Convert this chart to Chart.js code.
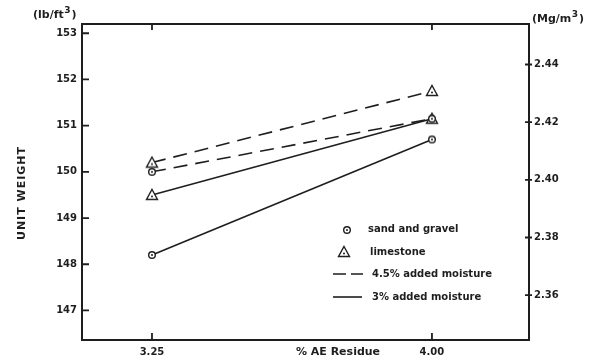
<!DOCTYPE html>
<html lang="en">
<head>
<meta charset="UTF-8" />
<script src="https://cdn.jsdelivr.net/npm/chart.js@4.4.0/dist/chart.umd.min.js"></script>
<title>Unit weight vs % AE residue</title>
<style>
  html, body { margin: 0; padding: 0; background: #fff; }
</style>
</head>
<body>
<canvas id="myChart" width="600" height="362"></canvas>
<script>
// values
var xValues = [3.25, 4.00];
var limestoneWet = [150.2, 151.75];  // limestone, 4.5% added moisture
var sandWet = [150.0, 151.15];       // sand and gravel, 4.5% added moisture
var limestoneDry = [149.5, 151.15];  // limestone, 3% added moisture
var sandDry = [148.2, 150.7];        // sand and gravel, 3% added moisture

var leftTicks = [147, 148, 149, 150, 151, 152, 153];
var rightTicks = [2.36, 2.38, 2.40, 2.42, 2.44];
var xTicks = [3.25, 4.00];

var lbToMg = 0.0160185;
var yMin = 146.36, yMax = 153.2;
var xMin = 3.0625, xMax = 4.26;
var ink = "#1e1e1e";
var font = "DejaVu Sans";

function pts(ys) {
  return xValues.map(function (x, i) { return { x: x, y: ys[i] }; });
}

function marker(kind) {
  var c = document.createElement("canvas");
  c.width = 14; c.height = 14;
  var g = c.getContext("2d");
  g.strokeStyle = ink; g.lineWidth = 1.4;
  g.beginPath();
  if (kind == "circle") {
    g.arc(7, 7, 3.3, 0, Math.PI * 2);
  } else {
    g.moveTo(7, 1.5); g.lineTo(12.5, 11.5); g.lineTo(1.5, 11.5); g.closePath();
  }
  g.fillStyle = "#fff"; g.fill(); g.stroke();
  g.beginPath();
  g.arc(7, kind == "circle" ? 7 : 8.5, 1, 0, Math.PI * 2);
  g.fillStyle = ink; g.fill();
  return c;
}
var circleImg = marker("circle");
var triImg = marker("triangle");

function ds(label, ys, img, dashed) {
  return {
    label: label,
    data: pts(ys),
    borderColor: ink,
    borderWidth: 1.6,
    borderDash: dashed ? [14, 8] : [],
    pointStyle: img,
    pointRadius: 6,
    fill: false,
    tension: 0
  };
}

function setTicks(list) {
  return function (s) { s.ticks = list.map(function (v) { return { value: v }; }); };
}

// text with a raised "3" for the unit labels
function unitLabel(ctx, pre, x, y) {
  ctx.font = "bold 11px '" + font + "'";
  ctx.fillText(pre, x, y);
  var w = ctx.measureText(pre).width;
  ctx.font = "bold 9px '" + font + "'";
  ctx.fillText("3", x + w + 0.5, y - 4);
  var w3 = ctx.measureText("3").width;
  ctx.font = "bold 11px '" + font + "'";
  ctx.fillText(")", x + w + w3 + 1.5, y);
}

var decor = {
  id: "decor",
  afterDraw: function (chart) {
    var ctx = chart.ctx, a = chart.chartArea, sc = chart.scales;
    ctx.save();
    ctx.strokeStyle = ink; ctx.fillStyle = ink; ctx.lineWidth = 1.8;
    // inward tick marks
    ctx.beginPath();
    leftTicks.forEach(function (v) {
      var y = sc.y.getPixelForValue(v);
      ctx.moveTo(a.left, y); ctx.lineTo(a.left + 7, y);
    });
    rightTicks.forEach(function (v) {
      var y = sc.y2.getPixelForValue(v);
      ctx.moveTo(a.right - 4, y); ctx.lineTo(a.right + 3, y);
    });
    xTicks.forEach(function (v) {
      var x = sc.x.getPixelForValue(v);
      ctx.moveTo(x, a.bottom); ctx.lineTo(x, a.bottom - 7);
      ctx.moveTo(x, a.top); ctx.lineTo(x, a.top + 6);
    });
    ctx.stroke();

    // unit labels and axis titles
    ctx.textBaseline = "middle";
    ctx.textAlign = "left";
    unitLabel(ctx, "(lb/ft", 33, 15);
    unitLabel(ctx, "(Mg/m", 532, 19);
    ctx.font = "bold 11px '" + font + "'";
    ctx.textAlign = "center";
    ctx.fillText("% AE Residue", 338, 352);
    ctx.save();
    ctx.translate(22, 193);
    ctx.rotate(-Math.PI / 2);
    ctx.letterSpacing = "1px";
    ctx.fillText("UNIT WEIGHT", 0, 0);
    ctx.restore();

    // legend inside the plot
    ctx.drawImage(circleImg, 347 - 7, 230 - 7);
    ctx.drawImage(triImg, 344 - 7, 252 - 7);
    ctx.lineWidth = 1.6;
    ctx.beginPath(); ctx.setLineDash([13, 5]);
    ctx.moveTo(333, 274); ctx.lineTo(363, 274); ctx.stroke();
    ctx.beginPath(); ctx.setLineDash([]);
    ctx.moveTo(333, 297); ctx.lineTo(362, 297); ctx.stroke();
    ctx.font = "bold 10px '" + font + "'";
    ctx.textAlign = "left";
    ctx.fillText("sand and gravel", 368, 229);
    ctx.fillText("limestone", 370, 252);
    ctx.fillText("4.5% added moisture", 372, 274);
    ctx.fillText("3% added moisture", 372, 297);
    ctx.restore();
  }
};

var tickFont = { family: font, size: 10, weight: "bold" };

new Chart("myChart", {
  type: "line",
  data: {
    datasets: [
      ds("limestone 4.5%", limestoneWet, triImg, true),
      ds("sand and gravel 4.5%", sandWet, circleImg, true),
      ds("limestone 3%", limestoneDry, triImg, false),
      ds("sand and gravel 3%", sandDry, circleImg, false)
    ]
  },
  options: {
    responsive: false,
    animation: false,
    devicePixelRatio: 1,
    layout: { padding: 0 },
    plugins: { legend: { display: false }, tooltip: { enabled: false } },
    scales: {
      x: {
        type: "linear", position: "bottom", min: xMin, max: xMax,
        grid: { display: false, drawTicks: false },
        border: { display: true, color: ink, width: 2 },
        ticks: { color: ink, font: tickFont, padding: 6, maxRotation: 0,
                 callback: function (v) { return Number(v).toFixed(2); } },
        afterBuildTicks: setTicks(xTicks),
        afterFit: function (s) { s.height = 22; }
      },
      xTop: {
        type: "linear", position: "top", min: xMin, max: xMax,
        grid: { display: false, drawTicks: false },
        border: { display: true, color: ink, width: 2 },
        ticks: { display: false },
        afterFit: function (s) { s.height = 24; }
      },
      y: {
        type: "linear", position: "left", min: yMin, max: yMax,
        grid: { display: false, drawTicks: false },
        border: { display: true, color: ink, width: 2 },
        ticks: { color: ink, font: tickFont, padding: 5,
                 callback: function (v) { return String(v); } },
        afterBuildTicks: setTicks(leftTicks),
        afterFit: function (s) { s.width = 82; }
      },
      y2: {
        type: "linear", position: "right", min: yMin * lbToMg, max: yMax * lbToMg,
        grid: { display: false, drawTicks: false },
        border: { display: true, color: ink, width: 2 },
        ticks: { color: ink, font: tickFont, padding: 5,
                 callback: function (v) { return Number(v).toFixed(2); } },
        afterBuildTicks: setTicks(rightTicks),
        afterFit: function (s) { s.width = 71; }
      }
    }
  },
  plugins: [decor]
});
</script>
</body>
</html>
